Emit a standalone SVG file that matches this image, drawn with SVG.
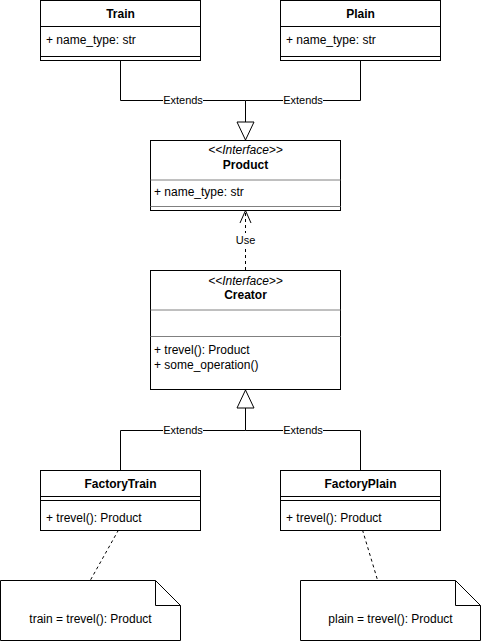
<svg xmlns="http://www.w3.org/2000/svg" width="481" height="641" viewBox="0 0 481 641">
  <style>
    .box { fill: #ffffff; stroke: #000000; stroke-width: 1; }
    .sep { stroke: #000000; stroke-width: 1; fill: none; }
    .sepg { stroke: #808080; stroke-width: 1; fill: none; }
    text { font-family: "Liberation Sans", Arial, Helvetica, sans-serif; font-size: 12px; fill: #000000; }
    .title { font-weight: bold; text-anchor: middle; }
    .stereo { font-style: italic; text-anchor: middle; }
    .mid { text-anchor: middle; }
    .lbl { font-size: 11px; text-anchor: middle; }
    .edge { stroke: #000000; stroke-width: 1; fill: none; }
    .dash { stroke: #000000; stroke-width: 1; fill: none; stroke-dasharray: 3 3; }
    .tri { fill: #ffffff; stroke: #000000; stroke-width: 1; }
    .lblbg { fill: #ffffff; }
  </style>

  <!-- connectors -->
  <g id="connectors">
    <!-- Train / Plain extend Product -->
    <polyline class="edge" points="120.5,60 120.5,100.5 245.5,100.5 245.5,122"/>
    <polyline class="edge" points="360.5,60 360.5,100.5 245.5,100.5"/>
    <polygon class="tri" points="237,122 254,122 245.5,140"/>
    <rect class="lblbg" x="163" y="94" width="40" height="12"/>
    <text class="lbl" x="183" y="104">Extends</text>
    <rect class="lblbg" x="283" y="94" width="40" height="12"/>
    <text class="lbl" x="303" y="104">Extends</text>

    <!-- Creator uses Product -->
    <line class="dash" x1="245.5" y1="270" x2="245.5" y2="211"/>
    <polyline class="edge" points="240,223 245.5,210.5 251,223"/>
    <rect class="lblbg" x="234" y="233" width="23" height="13"/>
    <text class="lbl" x="245.5" y="244">Use</text>

    <!-- FactoryTrain / FactoryPlain extend Creator -->
    <polyline class="edge" points="120.5,470 120.5,430.5 245.5,430.5 245.5,408"/>
    <polyline class="edge" points="360.5,470 360.5,430.5 245.5,430.5"/>
    <polygon class="tri" points="237,408 254,408 245.5,390"/>
    <rect class="lblbg" x="163" y="424" width="40" height="12"/>
    <text class="lbl" x="183" y="434">Extends</text>
    <rect class="lblbg" x="283" y="424" width="40" height="12"/>
    <text class="lbl" x="303" y="434">Extends</text>

    <!-- note anchors -->
    <line class="dash" x1="118.5" y1="530" x2="90.5" y2="580"/>
    <line class="dash" x1="362.5" y1="530" x2="377.5" y2="580"/>
  </g>

  <g id="train">
    <rect class="box" x="40.5" y="0.5" width="160" height="60"/>
    <line class="sep" x1="40.5" y1="26.5" x2="200.5" y2="26.5"/>
    <line class="sep" x1="40.5" y1="56.5" x2="200.5" y2="56.5"/>
    <text class="title" x="120.5" y="17.5">Train</text>
    <text x="46" y="43.5">+ name_type: str</text>
  </g>

  <g id="plain">
    <rect class="box" x="280.5" y="0.5" width="160" height="60"/>
    <line class="sep" x1="280.5" y1="26.5" x2="440.5" y2="26.5"/>
    <line class="sep" x1="280.5" y1="56.5" x2="440.5" y2="56.5"/>
    <text class="title" x="360.5" y="17.5">Plain</text>
    <text x="286" y="43.5">+ name_type: str</text>
  </g>

  <g id="product">
    <rect class="box" x="150.5" y="140.5" width="190" height="70"/>
    <line class="sepg" x1="150.5" y1="180" x2="340.5" y2="180"/>
    <line class="sepg" x1="150.5" y1="206.5" x2="340.5" y2="206.5"/>
    <text class="stereo" x="245.5" y="154">&lt;&lt;Interface&gt;&gt;</text>
    <text class="title" x="245.5" y="168.5">Product</text>
    <text x="154" y="196">+ name_type: str</text>
  </g>

  <g id="creator">
    <rect class="box" x="150.5" y="270.5" width="190" height="119"/>
    <line class="sepg" x1="150.5" y1="310" x2="340.5" y2="310"/>
    <line class="sepg" x1="150.5" y1="336.5" x2="340.5" y2="336.5"/>
    <text class="stereo" x="245.5" y="285">&lt;&lt;Interface&gt;&gt;</text>
    <text class="title" x="245.5" y="299">Creator</text>
    <text x="154" y="354">+ trevel(): Product</text>
    <text x="154" y="368.5">+ some_operation()</text>
  </g>

  <g id="factory-train">
    <rect class="box" x="40.5" y="470.5" width="160" height="60"/>
    <line class="sep" x1="40.5" y1="496.5" x2="200.5" y2="496.5"/>
    <line class="sep" x1="40.5" y1="500.5" x2="200.5" y2="500.5"/>
    <text class="title" x="120.5" y="488">FactoryTrain</text>
    <text x="46" y="522">+ trevel(): Product</text>
  </g>

  <g id="factory-plain">
    <rect class="box" x="280.5" y="470.5" width="160" height="60"/>
    <line class="sep" x1="280.5" y1="496.5" x2="440.5" y2="496.5"/>
    <line class="sep" x1="280.5" y1="500.5" x2="440.5" y2="500.5"/>
    <text class="title" x="360.5" y="488">FactoryPlain</text>
    <text x="286" y="522">+ trevel(): Product</text>
  </g>

  <g id="note-train">
    <path class="box" d="M0.5,580.5 H155.5 L180.5,605.5 V640.5 H0.5 Z"/>
    <path class="edge" d="M155.5,580.5 V605.5 H180.5"/>
    <text class="mid" x="90.5" y="623">train = trevel(): Product</text>
  </g>

  <g id="note-plain">
    <path class="box" d="M300.5,580.5 H455.5 L480.5,605.5 V640.5 H300.5 Z"/>
    <path class="edge" d="M455.5,580.5 V605.5 H480.5"/>
    <text class="mid" x="390.5" y="623">plain = trevel(): Product</text>
  </g>
</svg>
